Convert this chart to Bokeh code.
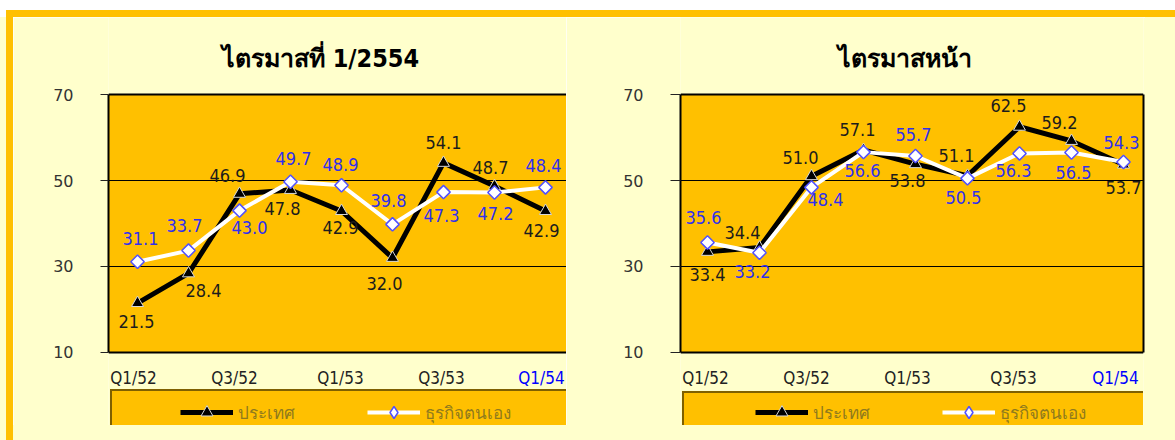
import math
from bokeh.plotting import figure
from bokeh.models import (Range1d, FixedTicker, LinearAxis, Legend, LegendItem, Span, Div,
                          BoxAnnotation, ColumnDataSource)
from bokeh.layouts import column, row
from bokeh.embed import file_html
from bokeh.resources import INLINE
from bokeh.core.properties import value

# ---------------- data ----------------
quarters = ["Q1/52", "Q2/52", "Q3/52", "Q4/52", "Q1/53", "Q2/53", "Q3/53", "Q4/53", "Q1/54"]
shown_quarters = ["Q1/52", "Q3/52", "Q1/53", "Q3/53", "Q1/54"]
highlight_quarter = "Q1/54"
series_names = ["ประเทศ", "ธุรกิจตนเอง"]
chart_titles = ["ไตรมาสที่ 1/2554", "ไตรมาสหน้า"]
y_ticks = [10, 30, 50, 70]

current_country = [21.5, 28.4, 46.9, 47.8, 42.9, 32.0, 54.1, 48.7, 42.9]
current_business = [31.1, 33.7, 43.0, 49.7, 48.9, 39.8, 47.3, 47.2, 48.4]
next_country = [33.4, 34.4, 51.0, 57.1, 53.8, 51.1, 62.5, 59.2, 53.7]
next_business = [35.6, 33.2, 48.4, 56.6, 55.7, 50.5, 56.3, 56.5, 54.3]

# ---------------- label placement (styling, px; +y = down) ----------------
left_country_off = [(-1, 18), (15, 17), (-12, -18), (-8, 19), (-1, 16), (-8, 26), (0, -20), (-4, -19), (-4, 19)]
left_business_off = [(3, -23), (-4, -25), (10, 17), (3, -23), (-1, -21), (-4, -24), (-2, 23), (1, 21), (-2, -22)]
right_country_off = [(0, 23), (-17, -15), (-11, -19), (-6, -20), (-8, 16), (-11, -20), (-11, -21), (-12, -18), (0, 23)]
right_business_off = [(-4, -25), (-7, 19), (14, 12), (-1, 18), (-2, -21), (-4, 19), (-6, 17), (2, 20), (-2, -20)]
left_tick_dx = [-4, -5, -1, -2, -4]
right_tick_dx = [-2, -5, -8, -6, -8]

ORANGE = "#FFC000"
LIGHT = "#FFFFCC"
BLUE = "#2f2fee"
DARK = "#1c1c1c"
OLIVE = "#8f7a1e"
NUM_FONT = "DejaVu Sans Condensed"
TICK_FONT = "DejaVu Sans"
FIG_H = 408
Y_VIEW = (-6.98, 87.91)   # visible y extent of the canvas (plot box spans 10..70)


def make_chart(title, country, business, c_off, b_off, tick_dx, width, border_left, border_right,
               x_start, x_end, tick_out, title_dx, right_border, box_dx, box_dy, leg_dx, leg_dy):
    p = figure(width=width, height=FIG_H, x_range=Range1d(x_start, x_end),
               y_range=Range1d(*Y_VIEW), output_backend="svg", toolbar_location=None,
               min_border_left=border_left, min_border_right=border_right,
               min_border_top=0, min_border_bottom=0,
               background_fill_color=LIGHT, border_fill_color=LIGHT)
    p.outline_line_color = None
    p.xaxis.visible = False
    p.xgrid.visible = False

    # orange plot box
    p.add_layout(BoxAnnotation(bottom=y_ticks[0], top=y_ticks[-1], fill_color=ORANGE, fill_alpha=1,
                               line_color=None, level="image"))
    p.ygrid.ticker = FixedTicker(ticks=y_ticks[1:-1])
    p.ygrid.grid_line_color = "black"
    p.ygrid.grid_line_width = 1
    for yv in (y_ticks[0], y_ticks[-1]):
        p.add_layout(Span(location=yv, dimension="width", line_color="black", line_width=2))

    yax = p.yaxis[0]
    yax.ticker = FixedTicker(ticks=y_ticks)
    yax.bounds = (y_ticks[0], y_ticks[-1])
    yax.major_tick_out = tick_out
    yax.major_tick_in = 0
    yax.major_tick_line_color = "#222222"
    yax.minor_tick_line_color = None
    yax.axis_line_width = 2
    yax.axis_line_color = "black"
    yax.major_label_standoff = 27
    yax.major_label_text_font = TICK_FONT
    yax.major_label_text_font_size = "16px"
    yax.major_label_text_color = "#333333"

    if right_border:
        p.add_layout(LinearAxis(ticker=FixedTicker(ticks=[]), bounds=(y_ticks[0], y_ticks[-1]),
                                axis_line_width=2, axis_line_color="black", major_tick_out=0,
                                major_tick_in=0, minor_tick_out=0, minor_tick_in=0,
                                major_label_standoff=0, major_label_text_font_size="0px"), "right")

    xs = list(range(len(quarters)))
    src = ColumnDataSource(dict(
        x=xs, country=country, business=business,
        ctext=[f"{v:.1f}" for v in country], btext=[f"{v:.1f}" for v in business],
        cdx=[o[0] for o in c_off], cdy=[o[1] for o in c_off],
        bdx=[o[0] for o in b_off], bdy=[o[1] for o in b_off],
    ))

    # legend background box (cut off at the bottom like in the original)
    dummy = p.line(x=[], y=[], line_alpha=0)
    p.add_layout(Legend(items=[LegendItem(label=" ", renderers=[dummy])], location=(box_dx, box_dy),
                        orientation="horizontal", padding=0, margin=0, spacing=0,
                        glyph_width=10, glyph_height=60, label_width=600, label_height=60,
                        label_standoff=0, background_fill_color=ORANGE, background_fill_alpha=1,
                        border_line_color="black", border_line_width=2))

    # series
    r1 = p.line("x", "country", source=src, line_color="black", line_width=5)
    r2 = p.scatter("x", "country", source=src, marker="triangle", size=12,
                   fill_color="black", line_color="#d8d8d8", line_width=1)
    r3 = p.line("x", "business", source=src, line_color="white", line_width=4)
    r4 = p.scatter("x", "business", source=src, marker="square", size=9.5, angle=math.pi / 4,
                   fill_color="white", line_color="#5050ff", line_width=1.5)
    # hidden legend swatch for the diamond marker (legend glyphs ignore marker angle)
    r4_key = p.scatter("x", "business", source=src, marker="diamond", size=14,
                       fill_color="white", line_color="#5050ff", line_width=1.5, visible=False)

    p.text("x", "country", text="ctext", source=src, x_offset="cdx", y_offset="cdy",
           text_align="center", text_baseline="middle", text_font=value(NUM_FONT),
           text_font_size="18px", text_color=DARK)
    p.text("x", "business", text="btext", source=src, x_offset="bdx", y_offset="bdy",
           text_align="center", text_baseline="middle", text_font=value(NUM_FONT),
           text_font_size="18px", text_color=BLUE)

    # category labels under the box
    tick_src = ColumnDataSource(dict(
        x=[quarters.index(q) for q in shown_quarters],
        y=[y_ticks[0]] * len(shown_quarters),
        t=shown_quarters,
        dx=tick_dx,
        c=["#0000ff" if q == highlight_quarter else "#222222" for q in shown_quarters],
    ))
    p.text("x", "y", text="t", source=tick_src, x_offset="dx", y_offset=26, text_color="c",
           text_align="center", text_baseline="middle", text_font=value(NUM_FONT),
           text_font_size="17px")

    # chart title
    p.text(x=[4], y=[y_ticks[-1]], text=[title], x_offset=title_dx, y_offset=-36,
           text_align="center", text_baseline="middle", text_font=value(NUM_FONT),
           text_font_size="25px", text_font_style="bold", text_color="black")

    p.add_layout(Legend(items=[LegendItem(label=series_names[0], renderers=[r1, r2]),
                               LegendItem(label=series_names[1], renderers=[r3, r4_key])],
                        location=(leg_dx, leg_dy), orientation="horizontal", padding=0, margin=0,
                        spacing=29, glyph_width=53, glyph_height=30, label_width=100,
                        label_height=30, label_standoff=5, background_fill_alpha=0,
                        border_line_color=None, label_text_font=NUM_FONT,
                        label_text_font_size="17px", label_text_color=OLIVE))
    return p


p1 = make_chart(chart_titles[0], current_country, current_business, left_country_off,
                left_business_off, left_tick_dx, width=553, border_left=95, border_right=0,
                x_start=-0.569, x_end=8.412, tick_out=8, title_dx=-21, right_border=False,
                box_dx=2, box_dy=-28, leg_dx=72, leg_dy=-2)
p2 = make_chart(chart_titles[1], next_country, next_business, right_country_off,
                right_business_off, right_tick_dx, width=579, border_left=114, border_right=2,
                x_start=-0.519, x_end=8.385, tick_out=10, title_dx=-10, right_border=True,
                box_dx=2, box_dy=-30, leg_dx=75, leg_dy=-2)


def strip(w, h, color):
    return Div(text="", width=w, height=h, margin=(0, 0, 0, 0),
               styles={"background-color": color})


layout = column(
    strip(1175, 10, "#ffffff"),
    row(strip(6, 7, "#ffffff"), strip(1169, 7, ORANGE), spacing=0),
    row(strip(6, 423, LIGHT), strip(7, 423, ORANGE),
        column(row(p1, p2, strip(30, FIG_H, LIGHT), spacing=0),
               strip(1162, 423 - FIG_H, LIGHT), spacing=0),
        spacing=0),
    spacing=0,
)

open("out.html", "w").write(file_html(layout, INLINE))
